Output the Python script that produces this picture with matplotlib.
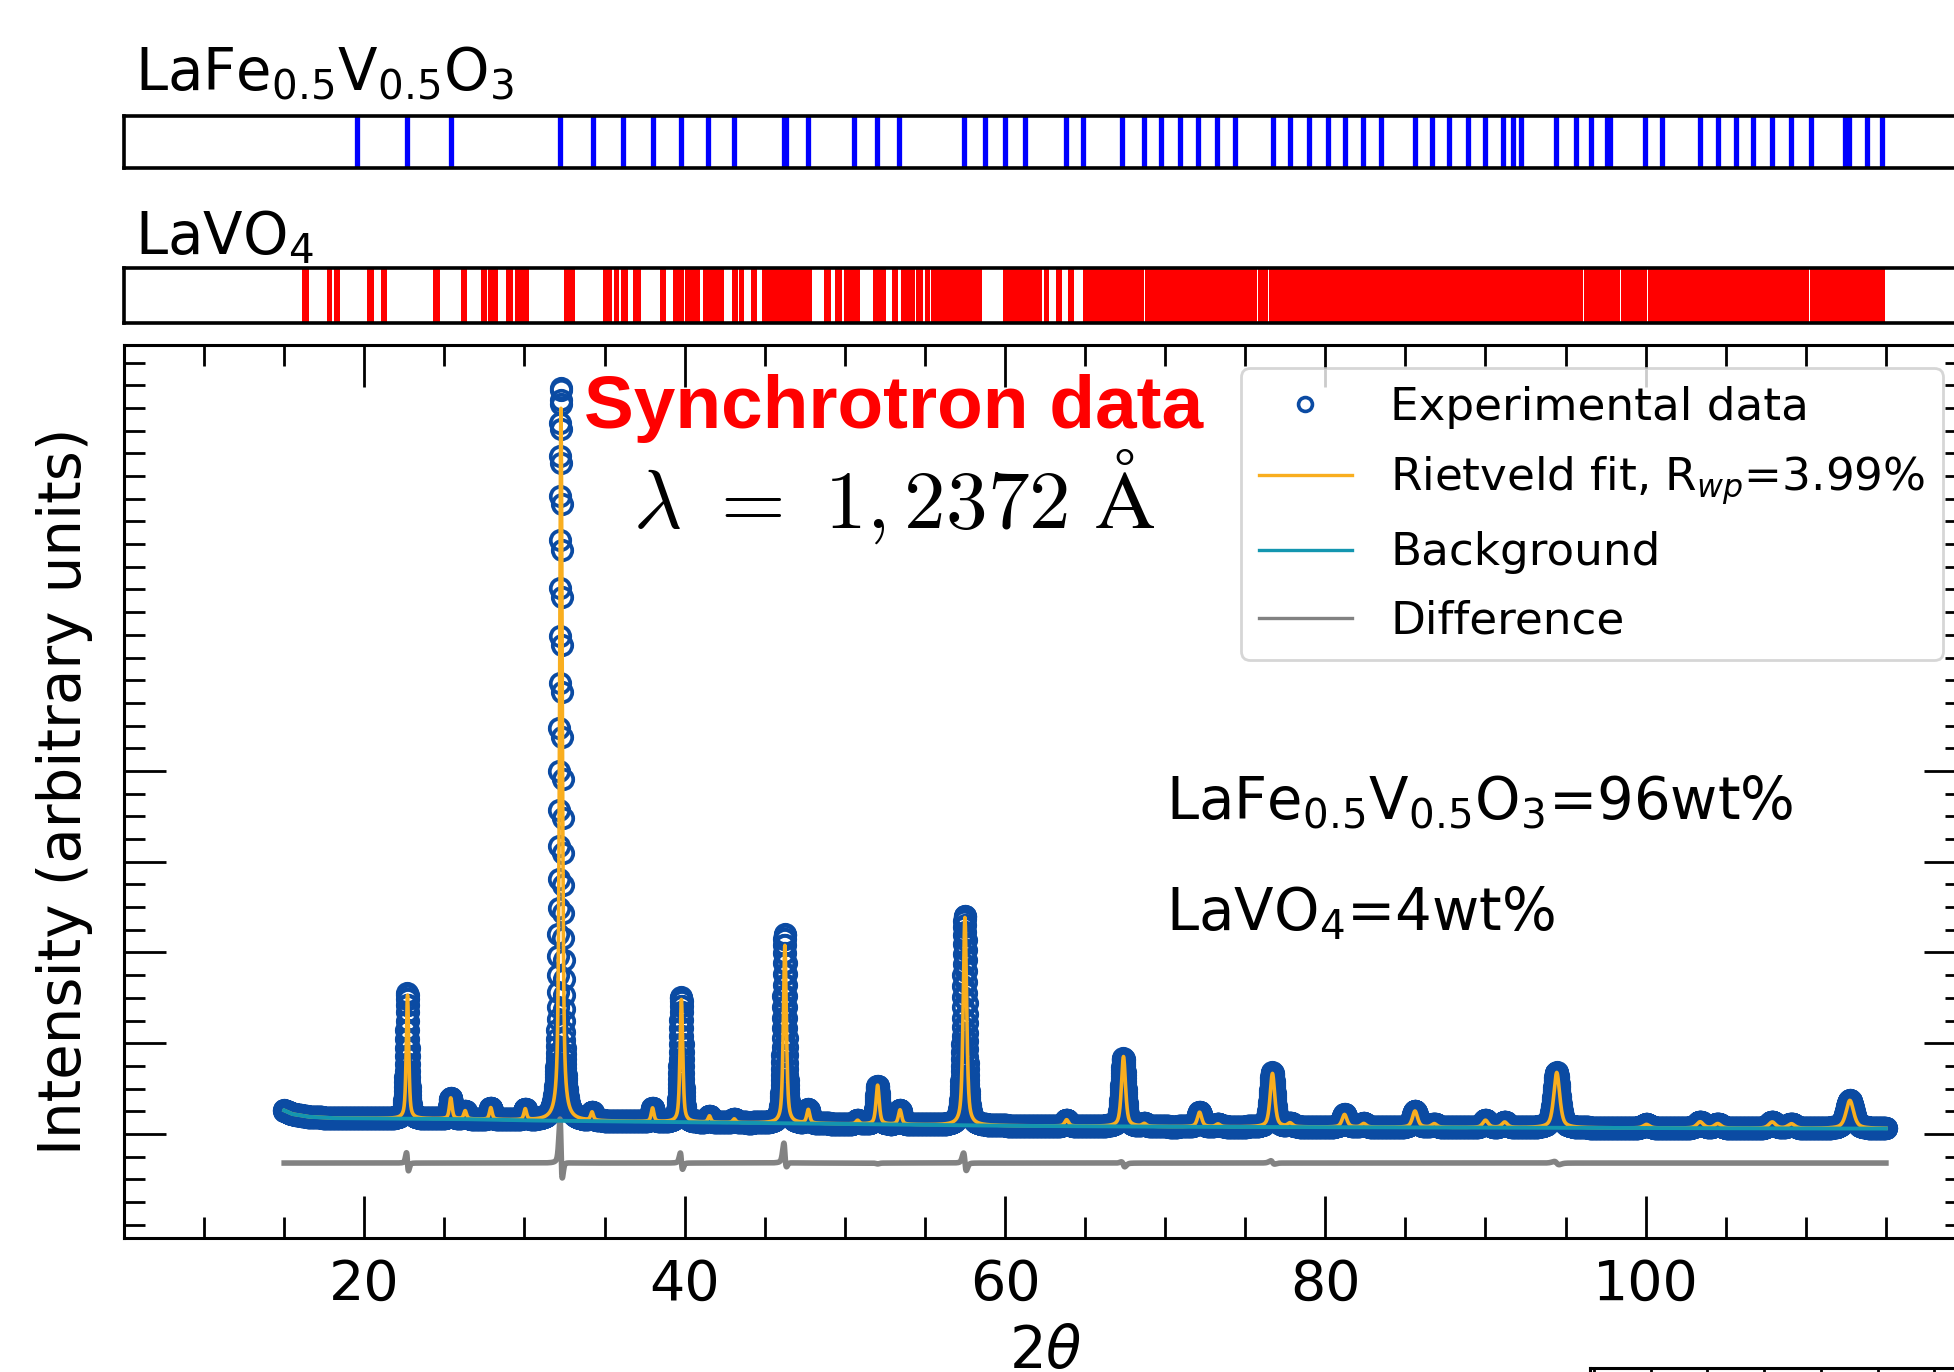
import numpy as np
import matplotlib
matplotlib.use("Agg")
import matplotlib.pyplot as plt
from matplotlib.lines import Line2D
from matplotlib.ticker import MultipleLocator, FixedLocator

# ------------------------------------------------------------------ data
TWO_THETA_START = 15.0
TWO_THETA_END = 115.0
TWO_THETA_STEP = 0.01

# Bragg peaks of the pattern (2theta), heights above background (calc / obs), FWHM
PEAK_POS = [22.70, 25.40, 26.30, 27.90, 30.05, 32.28, 34.22, 38.00, 39.80, 41.55,
            43.10, 46.26, 47.72, 50.80, 52.05, 53.45, 57.50, 63.85, 67.40, 68.70,
            72.15, 73.30, 76.70, 77.80, 81.20, 82.40, 85.60, 86.80, 90.00, 91.20,
            94.45, 100.05, 103.40, 104.50, 107.90, 109.10, 112.75]
PEAK_HEIGHT_CALC = [1.36, 0.23, 0.09, 0.13, 0.12, 7.85, 0.09, 0.15, 1.35, 0.07,
                    0.04, 1.96, 0.15, 0.04, 0.43, 0.16, 2.29, 0.07, 0.77, 0.03,
                    0.16, 0.03, 0.59, 0.04, 0.14, 0.04, 0.18, 0.04, 0.08, 0.06,
                    0.61, 0.04, 0.07, 0.05, 0.07, 0.05, 0.31]
PEAK_HEIGHT_OBS = [1.38, 0.23, 0.09, 0.13, 0.12, 8.08, 0.09, 0.15, 1.38, 0.07,
                   0.04, 2.09, 0.15, 0.04, 0.42, 0.16, 2.31, 0.07, 0.75, 0.03,
                   0.16, 0.03, 0.60, 0.04, 0.14, 0.04, 0.18, 0.04, 0.08, 0.06,
                   0.61, 0.04, 0.07, 0.05, 0.07, 0.05, 0.31]
PEAK_SHIFT_OBS = [-0.010, 0, 0, 0, 0, -0.006, 0, 0, -0.010, 0,
                  0, -0.010, 0, 0, 0, 0, -0.008, 0, -0.008, 0,
                  0, 0, -0.008, 0, 0, 0, 0, 0, 0, 0,
                  -0.010, 0, 0, 0, 0, 0, 0]
PEAK_FWHM = [0.18, 0.20, 0.20, 0.20, 0.20, 0.20, 0.20, 0.20, 0.20, 0.20,
             0.22, 0.22, 0.22, 0.24, 0.24, 0.24, 0.25, 0.28, 0.30, 0.30,
             0.32, 0.32, 0.34, 0.34, 0.36, 0.36, 0.38, 0.38, 0.40, 0.40,
             0.44, 0.46, 0.48, 0.48, 0.50, 0.50, 0.56]
PEAK_ETA = 0.6

# background knots
BG_X = [15.0, 15.5, 16.5, 18.0, 22.0, 26.0, 30.0, 35.0, 40.0, 50.0, 60.0,
        70.0, 80.0, 90.0, 100.0, 110.0, 115.0]
BG_Y = [0.26, 0.22, 0.19, 0.175, 0.17, 0.165, 0.15, 0.14, 0.13, 0.11, 0.09,
        0.08, 0.075, 0.07, 0.065, 0.06, 0.06]
DIFF_OFFSET = -0.32

# reflection markers
LAFEVO_REFLECTIONS = [19.55, 22.69, 25.40, 32.24, 34.27, 36.14, 38.01, 39.80, 41.43,
                      43.06, 46.22, 46.34, 47.72, 50.58, 52.01, 53.41, 57.46, 58.73,
                      60.01, 61.28, 63.82, 64.90, 67.33, 68.66, 69.72, 70.94, 72.07,
                      73.21, 74.35, 76.71, 77.80, 78.98, 80.16, 81.22, 82.36, 83.50,
                      85.62, 86.69, 87.75, 88.89, 89.99, 91.09, 91.70, 92.19, 94.39,
                      95.65, 96.56, 97.60, 97.80, 99.97, 101.03, 103.39, 104.52,
                      105.66, 106.72, 107.86, 109.07, 110.33, 112.47, 112.67,
                      113.82, 114.77]
LAVO4_BAND_START = [16.13, 17.69, 18.08, 20.20, 21.02, 24.29, 26.01, 27.29, 27.74,
                    28.85, 29.38, 32.44, 34.89, 35.57, 36.03, 36.75, 38.48, 39.30,
                    40.04, 41.12, 42.95, 43.41, 44.12, 44.84, 48.69, 49.41, 49.93,
                    51.79, 52.93, 53.52, 54.46, 55.02, 55.41, 59.85, 62.46, 63.18,
                    63.92, 64.90, 68.76, 70.77, 75.82, 76.48, 96.13, 98.48, 100.12,
                    110.25]
LAVO4_BAND_END = [16.55, 17.98, 18.50, 20.63, 21.45, 24.71, 26.44, 27.64, 28.33,
                  29.28, 30.29, 33.16, 35.45, 35.90, 36.49, 37.27, 38.84, 39.94,
                  40.93, 42.49, 43.31, 43.73, 44.52, 47.94, 49.15, 49.80, 50.97,
                  52.57, 53.32, 54.37, 54.89, 55.35, 58.54, 62.30, 62.72, 63.54,
                  64.32, 68.70, 70.71, 75.76, 76.40, 96.07, 98.42, 100.06, 110.19,
                  114.95]

LEGEND_LABELS = ["Experimental data", r"Rietveld fit, R$_{wp}$=3.99%",
                 "Background", "Difference"]
X_MAJOR_TICKS = [20, 40, 60, 80, 100]
Y_MAJOR_TICKS = [0, 1, 2, 3, 4]

# ------------------------------------------------------------------ styles
C_OBS = "#0b4ba3"
C_FIT = "#f9ae1f"
C_BG = "#1396b0"
C_DIFF = "#828282"
W, H = 1954, 1372


def fx(px):
    return px / W


def fy(py):
    return 1 - py / H


def pseudo_voigt(x, x0, h, w, eta):
    u = (x - x0) / (w / 2.0)
    return h * (eta / (1 + u ** 2) + (1 - eta) * np.exp(-np.log(2) * u ** 2))


tt = np.arange(TWO_THETA_START, TWO_THETA_END + TWO_THETA_STEP / 2, TWO_THETA_STEP)
bg = np.interp(tt, BG_X, BG_Y)
calc = bg.copy()
obs = bg.copy()
for p, hc, ho, sh, w in zip(PEAK_POS, PEAK_HEIGHT_CALC, PEAK_HEIGHT_OBS,
                            PEAK_SHIFT_OBS, PEAK_FWHM):
    calc += pseudo_voigt(tt, p, hc, w, PEAK_ETA)
    obs += pseudo_voigt(tt, p + sh, ho, w, PEAK_ETA)
diff = obs - calc + DIFF_OFFSET

plt.rcParams["font.family"] = ["DejaVu Sans"]
plt.rcParams["axes.linewidth"] = 1.1

fig = plt.figure(figsize=(W / 200, H / 200), dpi=200)

xl = (5, 120)
ax_w = (1966 - 124) / W

# reflection bars
axb = fig.add_axes([fx(124), fy(168), ax_w, 52 / H])
axb.vlines(LAFEVO_REFLECTIONS, 0, 1, color="#0000ff", lw=1.9)
axr = fig.add_axes([fx(124), fy(323), ax_w, 55 / H])
for a, b in zip(LAVO4_BAND_START, LAVO4_BAND_END):
    axr.axvspan(a, b, color="#ff0000", lw=0)
for a in (axb, axr):
    a.set_xlim(*xl)
    a.set_ylim(0, 1)
    a.set_xticks([])
    a.set_yticks([])
    for s in a.spines.values():
        s.set_linewidth(1.3)

fig.text(fx(135), fy(90), r"LaFe$_{0.5}$V$_{0.5}$O$_3$", fontsize=20.8,
         va="baseline", ha="left")
fig.text(fx(135), fy(254), r"LaVO$_4$", fontsize=20.8, va="baseline", ha="left")

# main axes
ax = fig.add_axes([fx(124), fy(1238), ax_w, (1238 - 345) / H])
ax.plot(tt, obs, ls="none", marker="o", ms=7.0, mfc="none", mec=C_OBS, mew=1.35,
        zorder=2)
ax.plot(tt, calc, color=C_FIT, lw=1.3, zorder=3)
ax.plot(tt, bg, color=C_BG, lw=1.4, zorder=4)
ax.plot(tt, diff, color=C_DIFF, lw=2.0, zorder=3)

ax.set_xlim(*xl)
ax.set_ylim(-1.146, 8.694)
ax.xaxis.set_major_locator(FixedLocator(X_MAJOR_TICKS))
ax.xaxis.set_minor_locator(MultipleLocator(5))
ax.yaxis.set_major_locator(FixedLocator(Y_MAJOR_TICKS))
ax.yaxis.set_minor_locator(MultipleLocator(0.25))
ax.tick_params(which="both", direction="in", top=True, right=True,
               labelleft=False, width=1.0)
ax.tick_params(which="major", length=15, pad=7, labelsize=20)
ax.tick_params(which="minor", length=7.5)
ax.set_xlabel(r"$2\theta$", fontsize=20.8, labelpad=4)
ax.set_ylabel("Intensity (arbitrary units)", fontsize=20.8, labelpad=11)

handles = [
    Line2D([], [], ls="none", marker="o", ms=5.0, mfc="none", mec=C_OBS, mew=1.3),
    Line2D([], [], color=C_FIT, lw=1.2),
    Line2D([], [], color=C_BG, lw=1.2),
    Line2D([], [], color=C_DIFF, lw=1.2),
]
leg = ax.legend(handles, LEGEND_LABELS, loc="upper right", fontsize=16.3,
                handlelength=2.05, handletextpad=0.85, labelspacing=0.55,
                borderaxespad=0.5, borderpad=0.4, fancybox=True,
                framealpha=0.8, edgecolor="0.8")
leg.get_frame().set_linewidth(1.0)

fig.text(fx(584), fy(428), "Synchrotron data", fontsize=26.9, color="#ff0000",
         family="Liberation Sans", weight="bold", va="baseline", ha="left")
fig.text(fx(894), fy(528), r"$\lambda\ =\ 1,2372\ \mathrm{Å}$",
         math_fontfamily="cm", fontsize=30, va="baseline", ha="center")
fig.text(fx(1166), fy(819), r"LaFe$_{0.5}$V$_{0.5}$O$_3$=96wt%", fontsize=20.8,
         va="baseline", ha="left")
fig.text(fx(1166), fy(930), r"LaVO$_4$=4wt%", fontsize=20.8,
         va="baseline", ha="left")

# fragment of the neighbouring panel (bottom right)
axf = fig.add_axes([fx(1590), -0.3, (2000 - 1590) / W, 0.3 + 4 / H])
axf.set_xlim(-4 / 56.7, (2000 - 1594) / 56.7)
axf.xaxis.set_major_locator(MultipleLocator(1))
axf.set_yticks([])
axf.tick_params(direction="in", top=True, bottom=False, labelbottom=False,
                length=7, width=1.0)
for s in axf.spines.values():
    s.set_linewidth(1.1)

fig.savefig("out.png", dpi=200)
